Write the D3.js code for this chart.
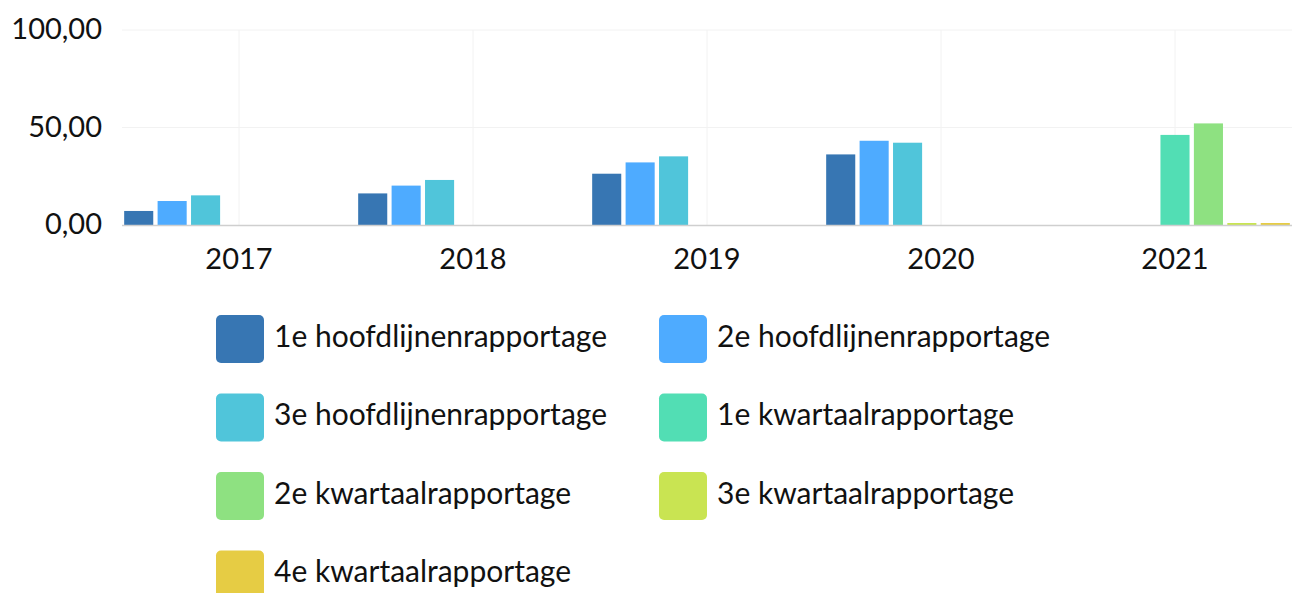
<!DOCTYPE html>
<html><head><meta charset="utf-8">
<script src="https://cdn.jsdelivr.net/npm/d3@7"></script>
<style>html,body{margin:0;padding:0;background:#fff;}svg{display:block;font-family:Lato,sans-serif;}</style>
</head><body>
<svg id="chart" width="1296" height="593"></svg>
<script>
const categories = ["2017","2018","2019","2020","2021"];
const seriesNames = ["1e hoofdlijnenrapportage","2e hoofdlijnenrapportage","3e hoofdlijnenrapportage","1e kwartaalrapportage","2e kwartaalrapportage","3e kwartaalrapportage","4e kwartaalrapportage"];
const seriesColors = ["#3776b3","#4eabff","#50c5da","#52deb4","#8ee181","#c9e452","#e6cc44"];
const s1 = [7.2, 16.2, 26.3, 36.2, null];
const s2 = [12.3, 20.2, 32.1, 43.2, null];
const s3 = [15.2, 23.1, 35.2, 42.2, null];
const s4 = [null, null, null, null, 46.2];
const s5 = [null, null, null, null, 52.1];
const s6 = [null, null, null, null, 0];
const s7 = [null, null, null, null, 0];
const seriesValues = [s1,s2,s3,s4,s5,s6,s7];
const yTicks = [0, 50, 100];

(function(){
const svg = d3.select("#chart");
const pL = 122, pR = 1292, pT = 30, pB = 225;
const x = d3.scaleBand().domain(categories).range([pL, pR]).padding(0);
const xs = d3.scaleBand().domain(d3.range(seriesNames.length)).range([0, x.bandwidth()]).paddingInner(0.13).paddingOuter(0.065);
const y = d3.scaleLinear().domain([0, 100]).range([pB, pT]);
const fmt = v => d3.format(".2f")(v).replace(".", ",");

const g = svg.append("g");
g.selectAll("line.h").data(yTicks.filter(t => t > 0)).join("line")
  .attr("x1", pL).attr("x2", pR).attr("y1", d => y(d)).attr("y2", d => y(d))
  .attr("stroke", "#f2f2f2").attr("stroke-width", 1);
g.selectAll("line.v").data(categories).join("line")
  .attr("x1", d => x(d) + x.bandwidth()/2).attr("x2", d => x(d) + x.bandwidth()/2)
  .attr("y1", pT).attr("y2", pB)
  .attr("stroke", "#f2f2f2").attr("stroke-width", 1);

const yAxis = d3.axisLeft(y).tickValues(yTicks).tickFormat(fmt).tickSize(0).tickPadding(20);
const ya = svg.append("g").attr("transform", `translate(${pL},0)`).call(yAxis);
ya.select(".domain").remove();
ya.selectAll("text").attr("font-size", 29).attr("fill", "#111").attr("font-family", "Lato").attr("dy", "0.3em");

const data = [];
seriesValues.forEach((arr, si) => arr.forEach((v, ci) => { if (v !== null) data.push({si, ci, v}); }));
svg.append("g").selectAll("rect").data(data).join("rect")
  .attr("x", d => x(categories[d.ci]) + xs(d.si))
  .attr("width", xs.bandwidth())
  .attr("y", d => d.v === 0 ? y(0) - 2 : y(d.v))
  .attr("height", d => d.v === 0 ? 2 : y(0) - y(d.v))
  .attr("fill", d => seriesColors[d.si]);

svg.append("line").attr("x1", pL).attr("x2", pR).attr("y1", y(0)+0.5).attr("y2", y(0)+0.5)
  .attr("stroke", "#cfcfcf").attr("stroke-width", 1.5);

const xAxis = d3.axisBottom(x).tickSize(0).tickPadding(23.5);
const xa = svg.append("g").attr("transform", `translate(0,${pB})`).call(xAxis);
xa.select(".domain").remove();
xa.selectAll("text").attr("font-size", 29).attr("fill", "#111").attr("font-family", "Lato");

const legend = svg.append("g");
const items = legend.selectAll("g").data(seriesNames).join("g")
  .attr("transform", (d, i) => `translate(${216 + (i % 2) * 443},${315 + Math.floor(i / 2) * 78.5})`);
items.append("rect").attr("width", 48).attr("height", 48).attr("rx", 5)
  .attr("fill", (d, i) => seriesColors[i]);
items.append("text").attr("x", 58).attr("y", 31.5).text(d => d)
  .attr("font-size", 30).attr("fill", "#111").attr("font-family", "Lato");
})();
</script>
</body></html>
